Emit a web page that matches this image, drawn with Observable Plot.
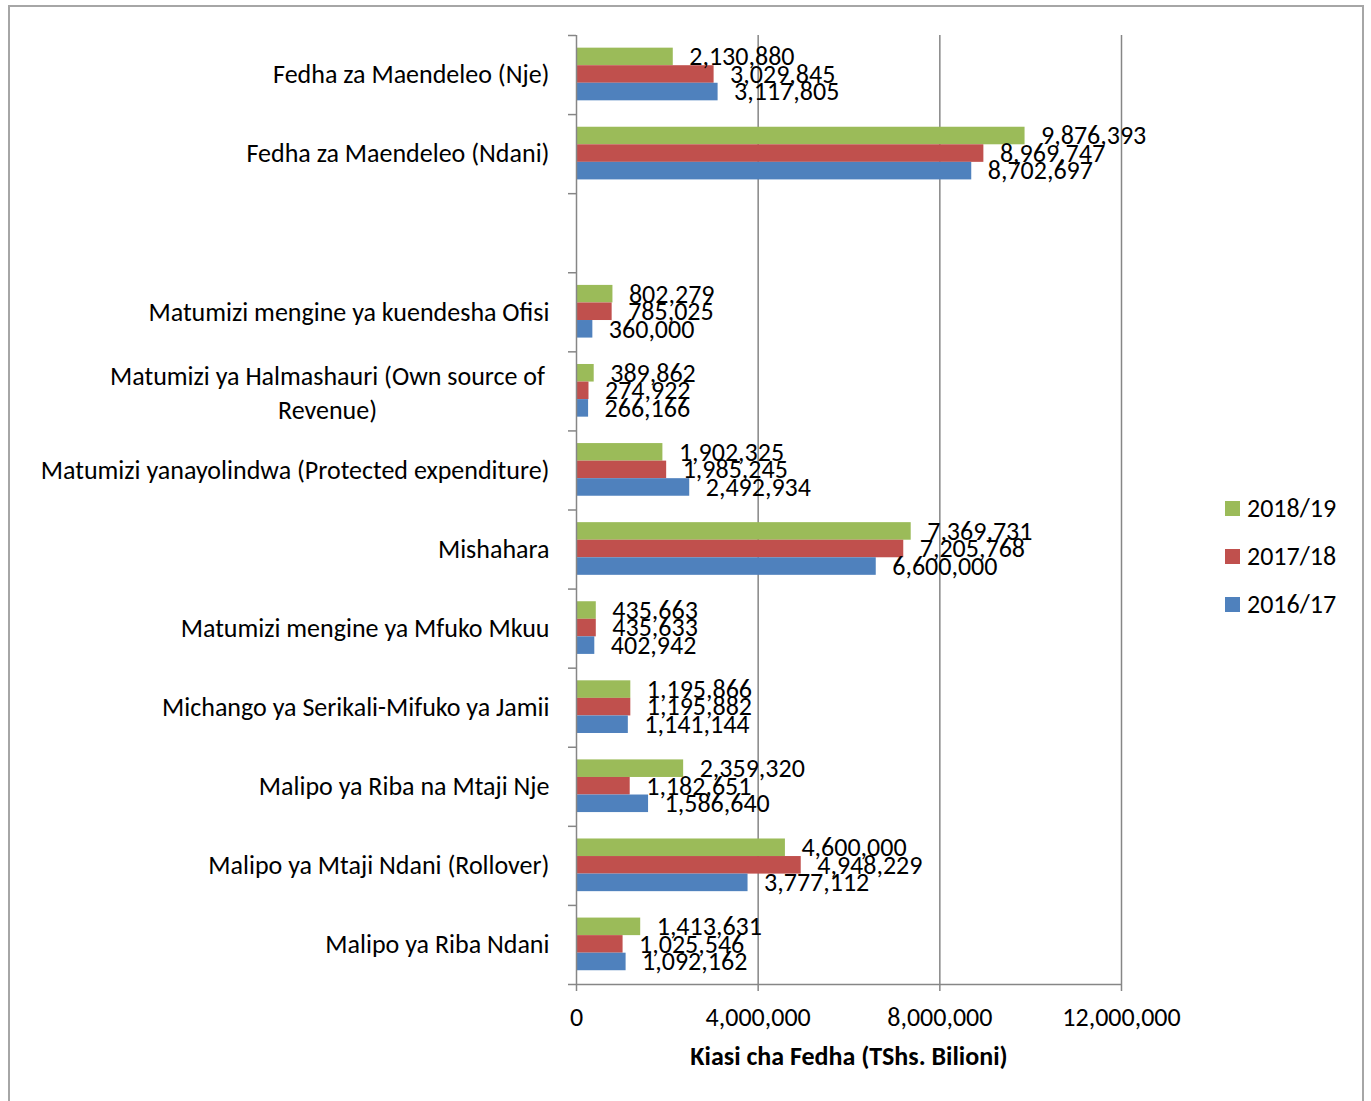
<!DOCTYPE html>
<html>
<head>
<meta charset="utf-8">
<script src="https://cdn.jsdelivr.net/npm/d3@7"></script>
<script src="https://cdn.jsdelivr.net/npm/@observablehq/plot@0.6"></script>
<style>
  html, body { margin: 0; padding: 0; background: #fff; width: 1371px; height: 1101px; overflow: hidden; }
  body { position: relative; font-family: Carlito, Lato, sans-serif; }
  #frame { position: absolute; left: 8px; top: 5px; width: 1356px; height: 1110px; border: 2px solid #a6a6a6; box-sizing: border-box; }
  #chart { position: absolute; left: 0; top: 0; }
  #legend { position: absolute; left: 1225px; top: 484px; }
  .li { display: flex; align-items: center; height: 48px; font-size: 26px; color: #000; }
  .sw { width: 15px; height: 15px; margin-right: 7px; }
</style>
</head>
<body>
<div id="frame"></div>
<div id="chart"></div>
<div id="legend"></div>
<script>
const categories = [
  "Fedha za Maendeleo (Nje)",
  "Fedha za Maendeleo (Ndani)",
  "",
  "Matumizi mengine ya kuendesha Ofisi",
  "Matumizi ya Halmashauri (Own source of Revenue)",
  "Matumizi yanayolindwa (Protected expenditure)",
  "Mishahara",
  "Matumizi mengine ya Mfuko Mkuu",
  "Michango ya Serikali-Mifuko ya Jamii",
  "Malipo ya Riba na Mtaji Nje",
  "Malipo ya Mtaji Ndani (Rollover)",
  "Malipo ya Riba Ndani"
];
const categoryLabels = [
  "Fedha za Maendeleo (Nje)",
  "Fedha za Maendeleo (Ndani)",
  "",
  "Matumizi mengine ya kuendesha Ofisi",
  "Matumizi ya Halmashauri (Own source of\nRevenue)",
  "Matumizi yanayolindwa (Protected expenditure)",
  "Mishahara",
  "Matumizi mengine ya Mfuko Mkuu",
  "Michango ya Serikali-Mifuko ya Jamii",
  "Malipo ya Riba na Mtaji Nje",
  "Malipo ya Mtaji Ndani (Rollover)",
  "Malipo ya Riba Ndani"
];
const series = ["2018/19", "2017/18", "2016/17"];
const colors = ["#9BBB59", "#C0504D", "#4F81BD"];
const values2018 = [2130880, 9876393, null, 802279, 389862, 1902325, 7369731, 435663, 1195866, 2359320, 4600000, 1413631];
const values2017 = [3029845, 8969747, null, 785025, 274922, 1985245, 7205768, 435633, 1195882, 1182651, 4948229, 1025546];
const values2016 = [3117805, 8702697, null, 360000, 266166, 2492934, 6600000, 402942, 1141144, 1586640, 3777112, 1092162];
const xTicks = [0, 4000000, 8000000, 12000000];
const xTitle = "Kiasi cha Fedha (TShs. Bilioni)";

const seriesValues = [values2018, values2017, values2016];
const rows = [];
categories.forEach((c, i) => {
  series.forEach((s, k) => {
    const v = seriesValues[k][i];
    if (v != null) rows.push({category: c, index: i, series: s, k, value: v});
  });
});

const pad = 0.16, bw = 0.222;
const fmt = d3.format(",");
const gray = "#868686";
const centers = categories.map((c, i) => i + 0.5);
const wrapped = categoryLabels.map((l, i) => l.includes("\n") ? i : -1).filter(i => i >= 0);

const chart = Plot.plot({
  width: 1200,
  height: 1101,
  marginTop: 35,
  marginBottom: 117,
  marginLeft: 576,
  marginRight: 79,
  style: {fontFamily: "Carlito, Lato, sans-serif", fontSize: "26px", color: "#000", background: "transparent"},
  x: {domain: [0, 12000000]},
  y: {domain: [0, categories.length], reverse: true},
  color: {domain: series, range: colors},
  marks: [
    Plot.gridX(xTicks.slice(1), {stroke: gray, strokeOpacity: 1, strokeWidth: 1.5}),
    Plot.rect(rows, {
      x1: 0, x2: "value",
      y1: d => d.index + pad + d.k * bw,
      y2: d => d.index + pad + (d.k + 1) * bw,
      fill: "series"
    }),
    Plot.ruleX([0], {stroke: gray, strokeWidth: 1.5}),
    Plot.ruleY([categories.length], {stroke: gray, strokeWidth: 1.5}),
    Plot.axisY(d3.range(0, categories.length + 1), {tickSize: 8, tickFormat: () => "", stroke: gray, strokeWidth: 1.5, label: null}),
    Plot.axisY(centers.filter((c, i) => !categoryLabels[i].includes("\n")), {
      tickSize: 0, tickPadding: 27, label: null,
      tickFormat: d => categoryLabels[Math.floor(d)], fill: "#000"
    }),
    Plot.text(wrapped, {
      y: i => i + 0.5, frameAnchor: "left", dx: -249, textAnchor: "middle",
      text: i => categoryLabels[i], lineHeight: 1.31, fill: "#000"
    }),
    Plot.axisX(xTicks, {tickSize: 7, tickPadding: 16, tickFormat: fmt, stroke: gray, strokeWidth: 1.5, fill: "#000", label: null}),
    Plot.text([xTitle], {frameAnchor: "bottom", dy: 80, fontWeight: "bold", fill: "#000"}),
    Plot.text(rows, {
      x: "value",
      y: d => d.index + pad + (d.k + 0.5) * bw,
      text: d => fmt(d.value),
      textAnchor: "start", dx: 16, fill: "#000"
    })
  ]
});
document.getElementById("chart").appendChild(chart);

const legend = document.getElementById("legend");
series.forEach((s, k) => {
  const item = document.createElement("div");
  item.className = "li";
  item.innerHTML = `<div class="sw" style="background:${colors[k]}"></div><span>${s}</span>`;
  legend.appendChild(item);
});
</script>
</body>
</html>
